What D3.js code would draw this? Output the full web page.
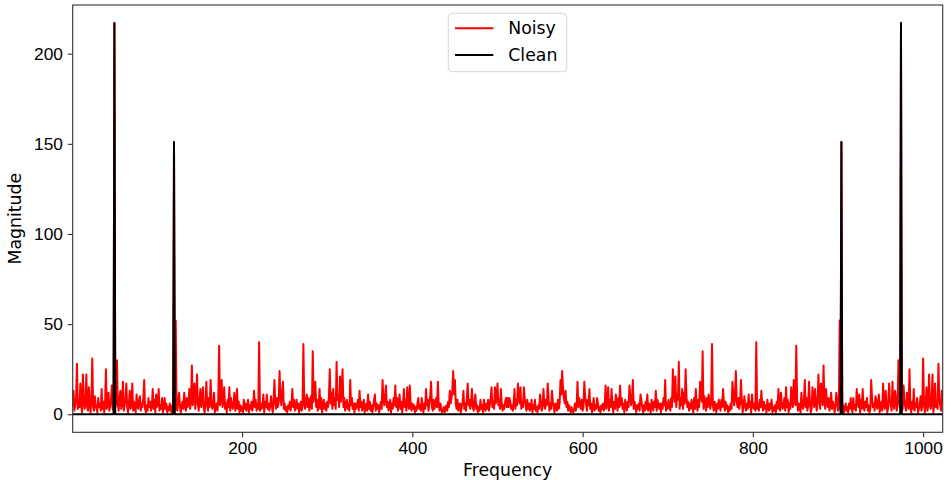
<!DOCTYPE html>
<html>
<head>
<meta charset="utf-8">
<script src="https://cdn.jsdelivr.net/npm/d3@7"></script>
<style>
  body { margin: 0; background: #fff; }
  svg { display: block; font-family: "DejaVu Sans", sans-serif; }
  .tick text { font-size: 17.3px; fill: #000; }
</style>
</head>
<body>
<div id="chart"></div>
<script>
// magnitude of the noisy spectrum, bins 0..512 (the rest mirrors, |X[k]| = |X[N-k]|)
var noisyHalf = [
  4, 6, 13, 2, 5, 9, 28, 3, 7, 4,
  17, 5, 1, 22, 8, 3, 6, 22, 4, 2,
  15, 6, 1, 8, 31, 4, 2, 10, 5, 3,
  1, 9, 4, 6, 2, 14, 3, 7, 1, 5,
  25, 3, 6, 12, 2, 4, 8, 16, 3, 2,
  217, 4, 7, 30, 5, 2, 9, 13, 3, 6,
  18, 2, 5, 8, 17, 4, 1, 6, 13, 3,
  5, 17, 2, 7, 4, 1, 11, 5, 3, 8,
  10, 2, 6, 4, 9, 19, 3, 1, 5, 2,
  9, 4, 7, 2, 5, 14, 3, 8, 1, 11,
  4, 6, 14, 2, 5, 3, 9, 1, 4, 9,
  3, 6, 1, 4, 2, 6, 3, 1, 5, 2,
  151, 6, 52, 3, 2, 8, 12, 4, 1, 5,
  7, 3, 12, 5, 2, 9, 4, 6, 14, 3,
  8, 27, 5, 10, 17, 3, 9, 22, 6, 2,
  7, 14, 4, 8, 15, 3, 1, 6, 18, 5,
  2, 9, 4, 19, 7, 3, 5, 12, 1, 4,
  6, 2, 8, 38, 5, 9, 19, 4, 7, 15,
  3, 6, 1, 8, 4, 15, 2, 9, 5, 3,
  6, 12, 2, 4, 14, 3, 7, 1, 5, 2,
  4, 1, 8, 3, 6, 2, 4, 8, 1, 5,
  3, 7, 2, 5, 13, 4, 8, 2, 6, 3,
  40, 2, 6, 3, 5, 11, 1, 7, 4, 11,
  3, 6, 2, 5, 10, 4, 1, 8, 19, 6,
  3, 9, 4, 7, 24, 10, 5, 12, 18, 3,
  6, 2, 4, 1, 5, 3, 7, 2, 6, 14,
  4, 8, 2, 5, 8, 3, 6, 1, 4, 7,
  2, 5, 39, 6, 3, 8, 11, 4, 9, 2,
  6, 10, 3, 35, 7, 12, 18, 4, 8, 2,
  5, 14, 3, 9, 1, 5, 8, 3, 6, 2,
  7, 4, 10, 25, 6, 12, 3, 14, 5, 9,
  3, 29, 8, 11, 4, 21, 7, 13, 25, 4,
  9, 2, 5, 8, 3, 6, 2, 19, 5, 9,
  3, 6, 1, 6, 3, 5, 8, 2, 13, 4,
  7, 2, 5, 8, 1, 4, 6, 2, 11, 3,
  7, 2, 5, 1, 4, 8, 11, 2, 6, 3,
  5, 1, 4, 7, 3, 19, 8, 5, 10, 16,
  4, 7, 2, 5, 8, 1, 6, 3, 9, 5,
  16, 4, 9, 2, 6, 11, 3, 7, 1, 5,
  14, 4, 8, 2, 15, 6, 3, 16, 5, 2,
  6, 3, 5, 1, 4, 2, 6, 9, 3, 5,
  2, 9, 4, 1, 6, 3, 14, 5, 8, 2,
  6, 10, 18, 4, 2, 8, 3, 6, 9, 4,
  18, 5, 2, 6, 3, 1, 2, 4, 1, 3,
  5, 2, 7, 4, 13, 6, 9, 14, 24, 11,
  19, 6, 3, 8, 2, 5, 6, 1, 4, 7,
  13, 3, 6, 2, 9, 17, 5, 8, 3, 6,
  14, 4, 2, 7, 11, 3, 5, 1, 4, 2,
  8, 3, 5, 1, 8, 4, 2, 6, 3, 8,
  2, 5, 9, 15, 4, 7, 3, 15, 6, 9,
  17, 5, 8, 3, 14, 6, 2, 5, 3, 7,
  9, 4, 9
];

// clean spectrum, bins 0..512: only the two tones
var cleanPeakBins = [50, 120];
var cleanPeakValues = [217, 151];

var nBins = 1024;
var xDomain = [1, 1023];
var yDomain = [-10, 227];
var xTicks = [200, 400, 600, 800, 1000];
var yTicks = [0, 50, 100, 150, 200];
var seriesNames = ["Noisy", "Clean"];
var seriesColors = ["#ff0000", "#000000"];

var margin = {top: 5, right: 5.3, bottom: 47.7, left: 72.7},
    width = 948 - margin.left - margin.right,
    height = 480 - margin.top - margin.bottom;

// full spectra from the half spectra
function mirror(half) {
  var full = [];
  for (var k = 0; k < nBins; k++) {
    full.push({f: k, v: k <= nBins / 2 ? half[k] : half[nBins - k]});
  }
  return full;
}
var cleanHalf = noisyHalf.map(function() { return 0; });
cleanPeakBins.forEach(function(b, i) { cleanHalf[b] = cleanPeakValues[i]; });

var noisy = mirror(noisyHalf),
    clean = mirror(cleanHalf);

var x = d3.scaleLinear().domain(xDomain).range([0, width]),
    y = d3.scaleLinear().domain(yDomain).range([height, 0]);

var svg = d3.select("#chart").append("svg")
    .attr("width", 948)
    .attr("height", 480);

var g = svg.append("g")
    .attr("transform", "translate(" + margin.left + "," + margin.top + ")");

g.append("clipPath").attr("id", "clip")
  .append("rect")
    .attr("width", width)
    .attr("height", height);

var line = d3.line()
    .x(function(d) { return x(d.f); })
    .y(function(d) { return y(d.v); });

var plot = g.append("g").attr("clip-path", "url(#clip)");

[noisy, clean].forEach(function(series, i) {
  plot.append("path")
      .datum(series)
      .attr("fill", "none")
      .attr("stroke", seriesColors[i])
      .attr("stroke-width", 2)
      .attr("stroke-linejoin", "round")
      .attr("d", line);
});

// axes
var xAxis = g.append("g")
    .attr("transform", "translate(0," + height + ")")
    .call(d3.axisBottom(x).tickValues(xTicks).tickSize(4.9).tickPadding(4.9).tickFormat(d3.format("d")));

var yAxis = g.append("g")
    .call(d3.axisLeft(y).tickValues(yTicks).tickSize(4.9).tickPadding(4.9).tickFormat(d3.format("d")));

[xAxis, yAxis].forEach(function(a) {
  a.select(".domain").remove();
  a.selectAll(".tick line").attr("stroke", "#333").attr("stroke-width", 1.1);
});

// frame
g.append("rect")
    .attr("width", width)
    .attr("height", height)
    .attr("fill", "none")
    .attr("stroke", "#333")
    .attr("stroke-width", 1.1);

// axis labels
svg.append("text")
    .attr("x", margin.left + width / 2)
    .attr("y", 476)
    .attr("text-anchor", "middle")
    .style("font-size", "17.3px")
    .text("Frequency");

svg.append("text")
    .attr("transform", "translate(20.5," + (margin.top + height / 2) + ") rotate(-90)")
    .attr("text-anchor", "middle")
    .style("font-size", "17.3px")
    .text("Magnitude");

// legend
var legend = svg.append("g").attr("transform", "translate(448.3,13.3)");

legend.append("rect")
    .attr("width", 118.4)
    .attr("height", 58.4)
    .attr("rx", 4)
    .attr("fill", "#fff")
    .attr("fill-opacity", 0.8)
    .attr("stroke", "#d6d6d6")
    .attr("stroke-width", 1);

seriesNames.forEach(function(name, i) {
  var ly = 15 + i * 26.7;
  legend.append("line")
      .attr("x1", 6.7).attr("x2", 45)
      .attr("y1", ly).attr("y2", ly)
      .attr("stroke", seriesColors[i])
      .attr("stroke-width", 2);
  legend.append("text")
      .attr("x", 60)
      .attr("y", ly)
      .attr("dy", "0.35em")
      .style("font-size", "17.3px")
      .text(name);
});
</script>
</body>
</html>
